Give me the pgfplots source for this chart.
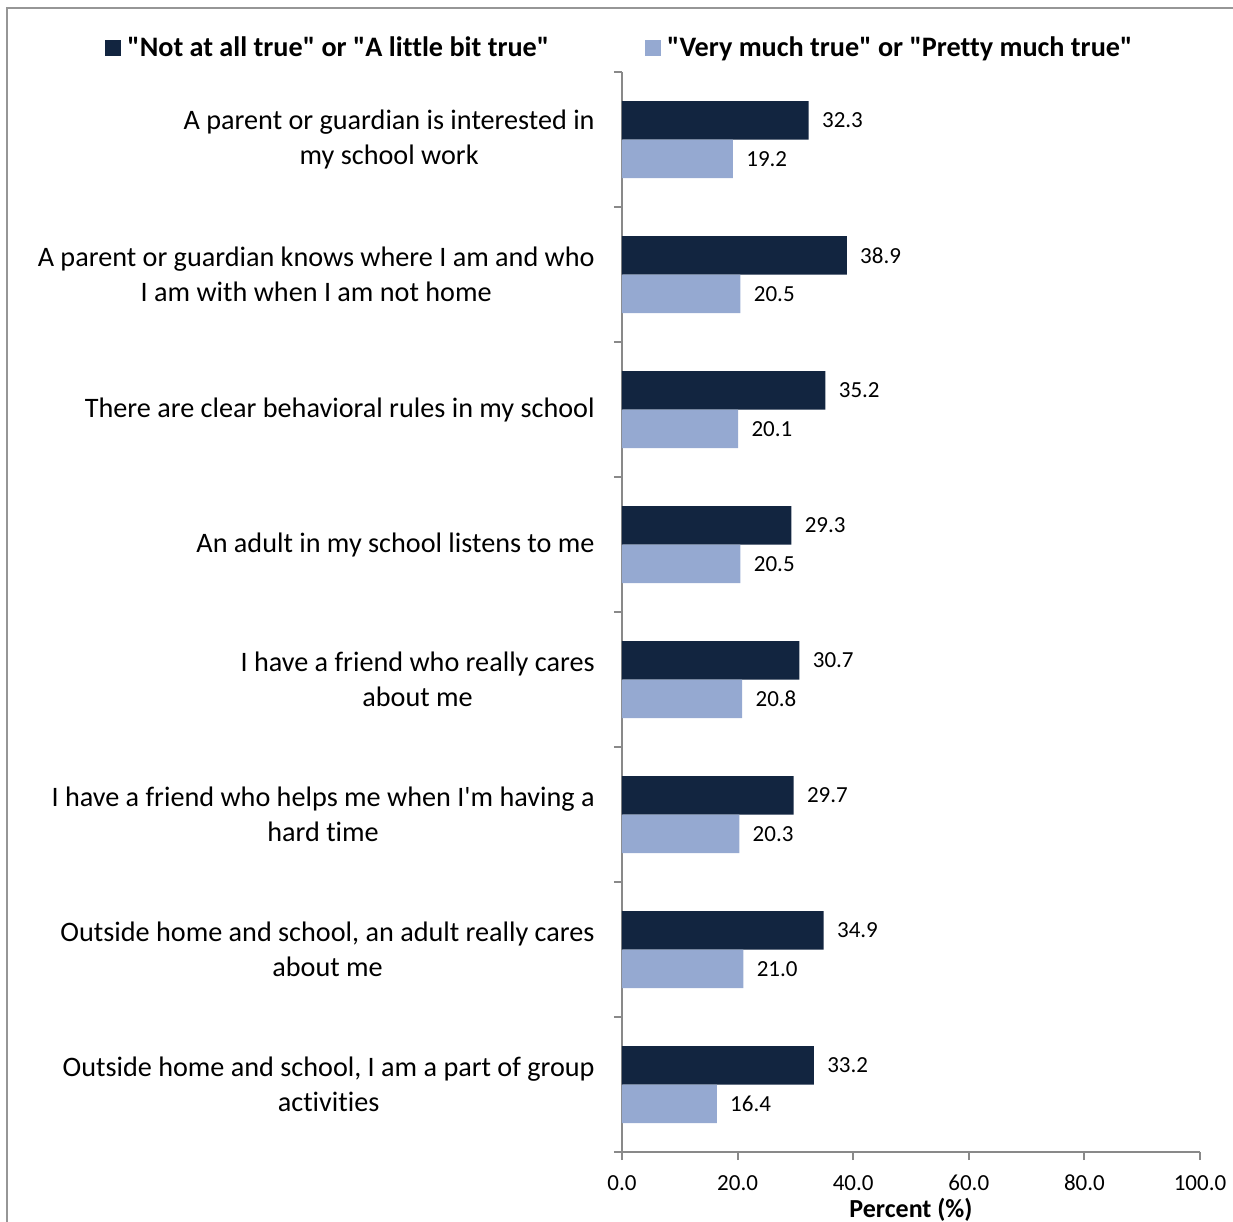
\documentclass[border=0pt]{standalone}
\usepackage{pgfplots}
\pgfplotsset{compat=1.18}
\usepackage{fontspec}
\setmainfont{Carlito}[Ligatures={TeXOff,NoCommon}]
\definecolor{darkbar}{RGB}{18,37,64}
\definecolor{lightbar}{RGB}{149,169,209}
\definecolor{axisgray}{RGB}{137,137,137}
\definecolor{framegray}{RGB}{150,150,150}
\begin{document}
\begin{tikzpicture}
\useasboundingbox (0,0) rectangle (616.5pt,-611pt);
\clip (0,0) rectangle (616.5pt,-611pt);
\draw[framegray, line width=1pt] (3.5pt,-4pt) rectangle (640pt,-640pt);
\begin{axis}[
  at={(311pt,-576pt)}, anchor=south west,
  scale only axis, width=289pt, height=540pt,
  xbar, bar width=19.25pt,
  xmin=0, xmax=100, ymin=-0.5, ymax=7.5,
  clip=false,
  xtick={0,20,...,100},
  ytick={-0.5,0.5,...,7.5}, yticklabels={},
  axis x line*=bottom, axis y line*=left,
  axis line style={color=axisgray, line width=1pt},
  tick style={color=axisgray, line width=1pt},
  tick align=outside, major tick length=4pt,
  xticklabel style={font=\fontsize{11.5pt}{13pt}\selectfont, text=black, yshift=-4pt},
  /pgf/number format/assume math mode=true,
  /pgf/number format/fixed, /pgf/number format/fixed zerofill, /pgf/number format/precision=1,
  xlabel={Percent (\%)},
  xlabel style={font=\bfseries\fontsize{13pt}{15pt}\selectfont, yshift=3.5pt},
  nodes near coords={\pgfmathprintnumber[fixed,fixed zerofill,precision=1]{\pgfplotspointmeta}},
  nodes near coords style={anchor=west, inner sep=0pt, xshift=6.5pt, font=\fontsize{11.5pt}{13pt}\selectfont, text=black},
  legend columns=2,
  legend style={at={(-0.0026,1.0222)}, anchor=center, draw=none, fill=none,
    font=\bfseries\fontsize{14.1pt}{17pt}\selectfont,
    nodes={inner sep=1.5pt},
    /tikz/every odd column/.append style={column sep=1.5pt},
    /tikz/every even column/.append style={column sep=46.5pt}},
]
\addplot[fill=darkbar, draw=none, bar shift=9.625pt,
  legend image code/.code={\fill[darkbar] (0pt,-4pt) rectangle (8pt,4pt);}]
  coordinates {(32.3,7) (38.9,6) (35.2,5) (29.3,4) (30.7,3) (29.7,2) (34.9,1) (33.2,0)};
\addlegendentry{"Not at all true" or "A little bit true"}
\addplot[fill=lightbar, draw=none, bar shift=-9.625pt,
  legend image code/.code={\fill[lightbar] (0pt,-4pt) rectangle (8pt,4pt);}]
  coordinates {(19.2,7) (20.5,6) (20.1,5) (20.5,4) (20.8,3) (20.3,2) (21.0,1) (16.4,0)};
\addlegendentry{"Very much true" or "Pretty much true"}
\tikzset{catlab/.style={anchor=east, align=center, inner sep=0pt, xshift=-13.5pt, font=\fontsize{14.1pt}{17.5pt}\selectfont}}
\node[catlab] at (axis cs:0,7) {A parent or guardian is interested in\\my school work};
\node[catlab] at (axis cs:0,6) {A parent or guardian knows where I am and who\\I am with when I am not home};
\node[catlab] at (axis cs:0,5) {There are clear behavioral rules in my school};
\node[catlab] at (axis cs:0,4) {An adult in my school listens to me};
\node[catlab] at (axis cs:0,3) {I have a friend who really cares\\about me};
\node[catlab] at (axis cs:0,2) {I have a friend who helps me when I'm having a\\hard time};
\node[catlab] at (axis cs:0,1) {Outside home and school, an adult really cares\\about me};
\node[catlab] at (axis cs:0,0) {Outside home and school, I am a part of group\\activities};
\end{axis}
\end{tikzpicture}
\end{document}
